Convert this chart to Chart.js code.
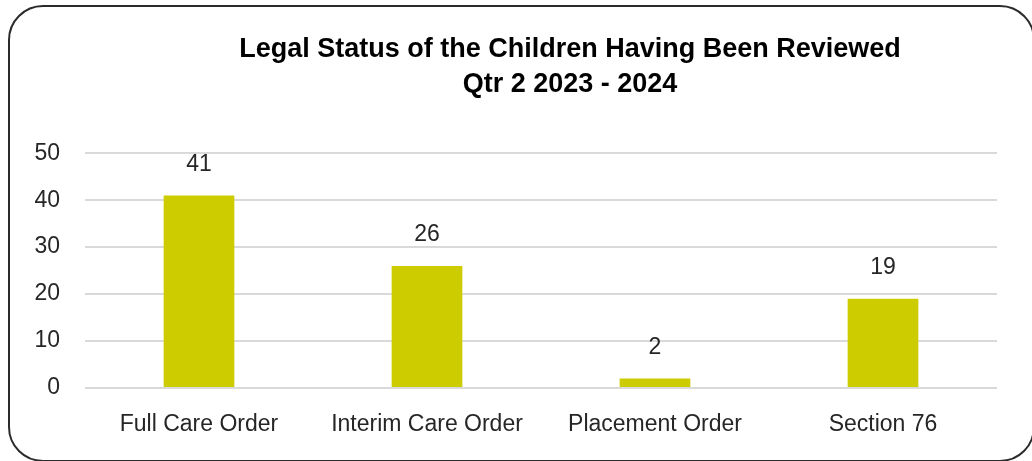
<!DOCTYPE html>
<html>
<head>
<meta charset="utf-8">
<script src="https://cdn.jsdelivr.net/npm/chart.js@4.4.1/dist/chart.umd.min.js"></script>
<style>
  html, body { margin: 0; padding: 0; background: #ffffff; overflow: hidden; }
  #wrap { position: relative; width: 1032px; height: 461px; }
  #frame { position: absolute; left: 8px; top: 5px; width: 1027px; height: 457px; box-sizing: border-box;
           border: 2px solid #2b2b2b; border-radius: 35px; pointer-events: none; }
  #c { position: absolute; left: 0; top: 0; }
</style>
</head>
<body>
<div id="wrap">
  <canvas id="c" width="1032" height="461"></canvas>
  <div id="frame"></div>
</div>
<script>
const titleLines = ["Legal Status of the Children Having Been Reviewed", "Qtr 2 2023 - 2024"];
const categories = ["Full Care Order", "Interim Care Order", "Placement Order", "Section 76"];
const values = [41, 26, 2, 19];
const yTicks = [0, 10, 20, 30, 40, 50];

const FONT = "'Liberation Sans', Arial, sans-serif";

const valueLabels = {
  id: 'valueLabels',
  afterDatasetsDraw(chart) {
    const ctx = chart.ctx;
    ctx.save();
    ctx.font = "23px " + FONT;
    ctx.fillStyle = '#262626';
    ctx.textAlign = 'center';
    ctx.textBaseline = 'middle';
    chart.data.datasets.forEach((ds, di) => {
      chart.getDatasetMeta(di).data.forEach((bar, i) => {
        ctx.fillText(String(ds.data[i]), bar.x, bar.y - 31);
      });
    });
    ctx.restore();
  }
};

const shiftTitle = {
  id: 'shiftTitle',
  afterLayout(chart) {
    const t = chart.titleBlock;
    if (t) { t.left += 55; t.right += 55; }
  }
};

new Chart(document.getElementById('c'), {
  type: 'bar',
  data: {
    labels: categories,
    datasets: [{
      data: values,
      backgroundColor: '#CCCC00',
      borderWidth: 0,
      categoryPercentage: 1.0,
      barPercentage: 0.31
    }]
  },
  options: {
    responsive: false,
    animation: false,
    layout: { padding: { left: 33, right: 35, top: 0, bottom: 1 } },
    plugins: {
      legend: { display: false },
      tooltip: { enabled: false },
      title: {
        display: true,
        text: titleLines,
        color: '#000000',
        font: { family: FONT, size: 27, weight: 'bold', lineHeight: 1.3 },
        padding: { top: 32, bottom: 51 }
      }
    },
    scales: {
      x: {
        afterFit(scale) { scale.height = 72; },
        grid: { display: false, drawTicks: false },
        border: { display: false },
        ticks: { color: '#262626', font: { family: FONT, size: 23 }, padding: 23, maxRotation: 0 }
      },
      y: {
        min: 0, max: 50,
        afterBuildTicks(scale) { scale.ticks = yTicks.map(v => ({ value: v })); },
        afterFit(scale) { scale.width = 52; },
        grid: { color: '#d9d9d9', lineWidth: 2, drawTicks: false },
        border: { display: false },
        ticks: { color: '#262626', font: { family: FONT, size: 23 }, padding: 25 }
      }
    }
  },
  plugins: [valueLabels, shiftTitle]
});
</script>
</body>
</html>
